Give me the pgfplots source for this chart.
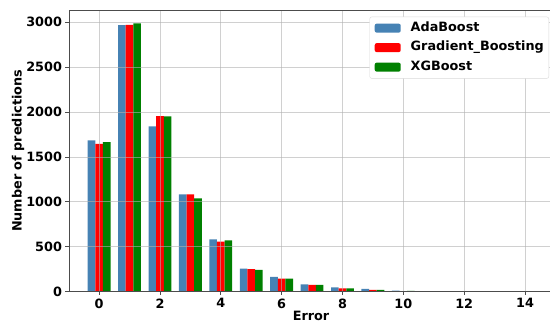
\documentclass[border=0pt]{standalone}
\usepackage{fontspec}
\setmainfont{DejaVu Sans}
\usepackage{pgfplots}
\usepackage{pgfplotstable}
\pgfplotsset{compat=1.18}

\definecolor{ada}{RGB}{70,130,180}
\definecolor{gbr}{RGB}{255,0,0}
\definecolor{xgb}{RGB}{0,128,0}
\definecolor{gridgray}{RGB}{176,176,176}

% Error histogram: count of predictions per absolute error, per model
\pgfplotstableread{
err ada  gbr  xgb
0   1685 1645 1666
1   2968 2972 2987
2   1841 1955 1952
3   1081 1081 1037
4   581  556  570
5   255  248  240
6   163  144  144
7   80   73   73
8   47   34   36
9   30   18   19
10  10   5    8
11  3    3    2
12  1    1    1
13  1    1    0
14  0    0    1
}\errtable

\begin{document}
\begin{tikzpicture}[font=\fontsize{12.8}{15}\selectfont\bfseries]
\begin{axis}[
  scale only axis,
  width=484pt, height=281.2pt,
  xmin=-0.99, xmax=14.92,
  ymin=0, ymax=3134,
  ybar, bar width=0.25,
  xtick={0,2,...,14},
  ytick={0,500,...,3000},
  scaled y ticks=false,
  /pgf/number format/assume math mode=true,
  yticklabel style={/pgf/number format/1000 sep={}},
  grid=major,
  grid style={color=gridgray, opacity=0.6, line width=0.8pt},
  axis on top,
  axis line style={black!70, line width=0.8pt},
  tick style={black!70, line width=0.8pt},
  tick align=outside,
  major tick length=3.5pt,
  tick pos=left,
  xlabel={Error},
  ylabel={Number of predictions},
  xlabel style={at={(axis description cs:0.5,0)}, anchor=center, yshift=-24pt},
  ylabel style={at={(axis description cs:0,0.5)}, anchor=center, yshift=51pt},
  legend cell align=left,
  legend style={
    at={(rel axis cs:1,1)}, anchor=north east,
    xshift=-4pt, yshift=-6.4pt,
    draw=black!15, rounded corners=2pt, fill=white,
    inner xsep=5pt, inner ysep=5pt,
    row sep=7pt, column sep=10pt,
    nodes={inner sep=0pt, text height=9.5pt, text depth=3pt},
  },
  legend image code/.code={\fill[#1, draw=none] (0pt,-4.5pt) rectangle (26pt,4.5pt);},
]
\addplot[fill=ada, draw=none, bar shift=-0.25] table[x=err, y=ada] {\errtable};
\addplot[fill=gbr, draw=none, bar shift=0] table[x=err, y=gbr] {\errtable};
\addplot[fill=xgb, draw=none, bar shift=0.25] table[x=err, y=xgb] {\errtable};
\legend{AdaBoost, Gradient\_Boosting, XGBoost}
\coordinate (bl) at (rel axis cs:0,0);
\coordinate (tr) at (rel axis cs:1,1);
\end{axis}
\pgfresetboundingbox
\path[use as bounding box] ([shift={(-69pt,-30.5pt)}]bl) rectangle ([shift={(-3pt,10.3pt)}]tr);
\end{tikzpicture}
\end{document}
